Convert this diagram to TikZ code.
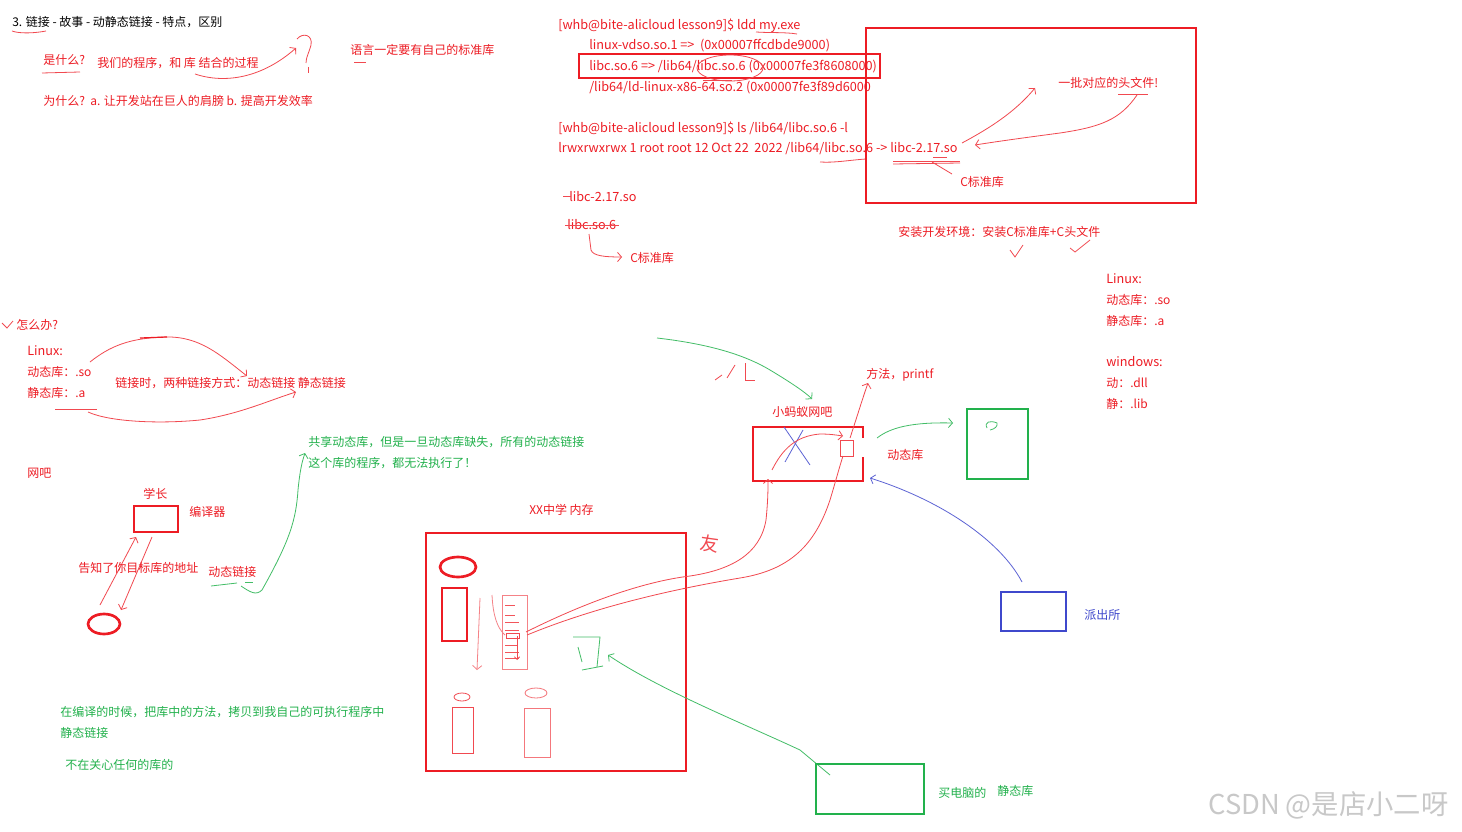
\documentclass[tikz,border=0pt]{standalone}
\usepackage{fontspec}
\setmainfont{Noto Sans CJK SC}
\usetikzlibrary{arrows.meta}
\definecolor{rd}{RGB}{237,28,36}
\definecolor{gn}{RGB}{34,177,76}
\definecolor{bl}{RGB}{63,72,204}
\definecolor{wm}{RGB}{200,200,200}
\begin{document}
\begin{tikzpicture}[x=0.75pt,y=-0.75pt,
  lbl/.style={anchor=west,inner sep=0pt,font=\fontsize{9}{10}\selectfont},
  rtx/.style={lbl,text=rd}, gtx/.style={lbl,text=gn}, btx/.style={lbl,text=bl},
  latin/.style={font=\fontsize{9.5}{10}\selectfont},
  bigbox/.style={line width=2pt},
  pen/.style={draw=rd!80,line width=0.6pt},
  gpen/.style={draw=gn!85,line width=0.6pt},
  bpen/.style={draw=bl!85,line width=0.6pt},
  barb/.style={-{Straight Barb[length=3pt,width=7pt]}},
]
\useasboundingbox[fill=white] (0,0) rectangle (1462,831);

% ---------- top left ----------
\node[lbl] (title) at (12,22) {3. 链接 - 故事 - 动静态链接 - 特点，区别};
\draw[pen] (12,31) .. controls (20,34) and (36,33) .. (46,31);
\node[rtx] (what) at (43,60) {是什么?};
\draw[pen] (42,73) -- (80,72);
\node[rtx] (prog) at (97,63) {我们的程序，和 库 结合的过程};
\draw[pen,barb] (195,74) .. controls (225,84) and (262,78) .. (296,48);
\draw[pen] (297,39) .. controls (303,32) and (313,35) .. (311,45) .. controls (309,53) and (306,57) .. (306,63);
\draw[pen] (308,67) -- (308,73);
\node[rtx] (lang) at (350,50) {语言一定要有自己的标准库};
\draw[pen] (354,62) -- (366,62);
\node[rtx] (why) at (43,101) {为什么?\ \ a. 让开发站在巨人的肩膀 b. 提高开发效率};

% ---------- terminal ----------
\node[rtx,latin] (t1) at (558,26) {[whb@bite-alicloud lesson9]\$ ldd my.exe};
\draw[pen] (756,32) .. controls (770,33) and (785,32) .. (797,34);
\node[rtx,latin] (t2) at (589,46) {linux-vdso.so.1 =>\ \ (0x00007ffcdbde9000)};
\node[rtx,latin] (t3) at (589,67) {libc.so.6 => /lib64/libc.so.6 (0x00007fe3f8608000)};
\draw[rd,bigbox] (579,54) rectangle (880,78);
\draw[pen] (730,68) ellipse [x radius=33, y radius=13];
\draw[pen] (703,80) -- (732,80);
\node[rtx,latin] (t4) at (589,88) {/lib64/ld-linux-x86-64.so.2 (0x00007fe3f89d6000};
\node[rtx,latin] (t5) at (558,128) {[whb@bite-alicloud lesson9]\$ ls /lib64/libc.so.6 -l};
\node[rtx,latin] (t6) at (558,149) {lrwxrwxrwx 1 root root 12 Oct 22\ \ 2022 /lib64/libc.so.6 -> libc-2.17.so};
\draw[pen] (820,162) .. controls (835,163) and (850,160) .. (866,159);
\draw[pen] (893,161) -- (960,161);
\draw[pen] (893,164) -- (960,163);
\draw[pen] (933,157) -- (947,157);
\draw[pen] (932,162) -- (952,174);

% big box with header files
\draw[rd,line width=2.2pt] (866,28) rectangle (1196,203);
\node[rtx] (hdr) at (1058,83) {一批对应的头文件!};
\draw[pen] (1118,94) -- (1148,94);
\draw[pen,barb] (962,143) .. controls (990,128) and (1015,112) .. (1035,88);
\draw[pen,barb] (1137,95) .. controls (1120,120) and (1100,127) .. (1060,133) .. controls (1030,137) and (1000,141) .. (975,145);
\node[rtx] (clib1) at (960,182) {C标准库};

\node[rtx] (env) at (898,232) {安装开发环境：安装C标准库+C头文件};
\draw[pen] (1010,250) -- (1015,257) -- (1023,245);
\draw[pen] (1070,248) -- (1075,252) -- (1090,240);

\node[rtx,latin] (so217) at (569,197) {libc-2.17.so};
\draw[pen] (563,196) -- (571,196);
\node[rtx,latin] (so6) at (567,225) {libc.so.6};
\draw[pen] (565,225) -- (619,225);
\node[rtx] (clib2) at (630,258) {C标准库};
\draw[pen,barb] (589,234) -- (591,250) .. controls (593,256) and (605,257) .. (622,257);

% right list
\node[rtx,latin] (rl1) at (1106,279) {Linux:};
\node[rtx] (rl2) at (1106,300) {动态库：.so};
\node[rtx] (rl3) at (1106,321) {静态库：.a};
\node[rtx,latin] (rl4) at (1106,362) {windows:};
\node[rtx] (rl5) at (1106,383) {动：.dll};
\node[rtx] (rl6) at (1106,404) {静：.lib};

% ---------- middle left ----------
\draw[pen] (2,323) -- (7,328) -- (13,321);
\node[rtx] (how) at (16,325) {怎么办?};
\node[rtx,latin] (ll1) at (27,351) {Linux:};
\node[rtx] (ll2) at (27,372) {动态库：.so};
\node[rtx] (ll3) at (27,393) {静态库：.a};
\node[rtx] (ways) at (115,383) {链接时，两种链接方式：动态链接 静态链接};
\draw[pen,barb] (90,362) .. controls (110,346) and (130,338) .. (165,337) .. controls (200,336) and (220,355) .. (247,376);
\draw[rd,line width=0.9pt] (140,338) -- (167,337);
\draw[pen] (55,409) -- (97,409);
\draw[pen,barb] (88,412) .. controls (110,422) and (160,424) .. (200,420) .. controls (240,414) and (270,400) .. (296,392);

\node[rtx] (netbar) at (27,473) {网吧};
\node[rtx] (senior) at (143,494) {学长};
\draw[rd,bigbox] (134,506) rectangle (178,532);
\node[rtx] (compiler) at (189,512) {编译器};
\draw[pen,barb] (100,605) -- (136,537);
\draw[pen,barb] (152,537) -- (121,610);
\draw[rd,bigbox] (104,624) ellipse [x radius=16, y radius=10];
\node[rtx] (addr) at (78,568) {告知了你目标库的地址};
\node[rtx] (dyn1) at (208,572) {动态链接};
\draw[gpen] (211,586) -- (237,583);
\draw[gpen] (245,582) -- (253,582);
\draw[gpen,barb] (241,586) .. controls (250,592) and (256,596) .. (262,590) .. controls (290,540) and (296,520) .. (298,490) .. controls (300,470) and (302,462) .. (305,453);
\node[gtx] (share1) at (308,442) {共享动态库，但是一旦动态库缺失，所有的动态链接};
\node[gtx] (share2) at (308,463) {这个库的程序，都无法执行了！};

% ---------- memory box ----------
\node[rtx] (mem) at (529,510) {XX中学 内存};
\draw[rd,bigbox] (426,533) rectangle (686,771);
\draw[rd,bigbox] (458,567) ellipse [x radius=18, y radius=10];
\draw[rd,bigbox] (442,588) rectangle (467,641);
\draw[pen,draw=rd!55,barb] (480,598) -- (477,670);
\draw[pen,draw=rd!55] (492,595) .. controls (493,615) and (497,628) .. (505,635);
\draw[pen,draw=rd!55] (502,595) rectangle (527,669);
\foreach \yy/\ww in {605/515,615/515,622/519,630/519,645/517,652/519,658/519}
  \draw[pen,draw=rd!75] (505,\yy) -- (\ww,\yy);
\draw[pen] (506,633) rectangle (519,638);
\draw[pen,-{Straight Barb[length=2pt,width=4pt]}] (517,636) -- (517,660);
\draw[pen] (462,697) ellipse [x radius=8, y radius=4];
\draw[pen] (452,707) rectangle (473,753);
\draw[pen,draw=rd!60] (536,693) ellipse [x radius=11, y radius=5];
\draw[pen,draw=rd!60] (524,708) rectangle (550,757);
\draw[gpen] (573,637) -- (600,637) -- (597,667);
\draw[gpen] (578,647) -- (582,662);
\draw[gpen] (582,670) -- (603,666);
\draw[gpen,barb] (830,775) -- (800,750) .. controls (740,722) and (660,690) .. (608,655);
% scribbles
\node[rtx,font=\fontsize{14}{14}\selectfont,rotate=-8,text=rd!80] (you) at (700,542) {友};
\draw[pen] (715,380) -- (722,375);
\draw[pen] (727,378) -- (735,365);
\draw[pen] (745,363) -- (745,380) -- (755,380);

% ---------- net cafe ----------
\draw[gpen,barb] (657,338) .. controls (700,343) and (740,352) .. (770,370) .. controls (790,382) and (805,392) .. (812,399);
\node[rtx] (cafe) at (772,412) {小蚂蚁网吧};
\draw[rd,bigbox] (863,457) -- (863,481) -- (753,481) -- (753,427) -- (863,427) -- (863,438);
\draw[pen] (840,440) rectangle (853,456);
\draw[bpen] (784,427) -- (810,465);
\draw[bpen] (803,430) -- (785,462);
\draw[pen,barb] (772,470) .. controls (782,450) and (795,436) .. (820,434) .. controls (830,434) and (836,435) .. (843,436);
\draw[pen,barb] (850,438) .. controls (856,420) and (862,400) .. (868,383);
\node[rtx] (printf) at (866,375) {方法，printf};
\draw[pen,barb] (526,632) .. controls (580,605) and (640,582) .. (690,576) .. controls (730,570) and (760,555) .. (766,520) .. controls (768,500) and (768,490) .. (768,479);
\draw[pen] (527,635) .. controls (600,605) and (680,588) .. (740,578) .. controls (790,570) and (815,545) .. (830,500) .. controls (836,480) and (840,465) .. (843,456);
\node[rtx] (dynlib) at (887,455) {动态库};
\draw[gpen,barb] (877,438) .. controls (890,428) and (910,422) .. (953,423);
\draw[gn,bigbox] (967,409) rectangle (1028,479);
\draw[gpen] (987,428) .. controls (984,422) and (990,420) .. (997,423) .. controls (998,426) and (995,429) .. (990,430);
\draw[bpen,barb] (1022,582) .. controls (1000,540) and (940,500) .. (870,478);
\draw[bl,bigbox] (1001,592) rectangle (1066,631);
\node[btx] (police) at (1084,615) {派出所};
\draw[gn,bigbox] (816,764) rectangle (924,814);
\node[gtx] (buy) at (938,793) {买电脑的};
\node[gtx] (stlib) at (997,791) {静态库};

% ---------- bottom left ----------
\node[gtx] (s1) at (60,712) {在编译的时候，把库中的方法，拷贝到我自己的可执行程序中};
\node[gtx] (s2) at (60,733) {静态链接};
\node[gtx] (s3) at (65,765) {不在关心任何的库的};

\node[lbl,font=\fontsize{20.5}{22}\selectfont,text=wm] (mark) at (1208,805) {CSDN @是店小二呀};
\end{tikzpicture}
\end{document}
